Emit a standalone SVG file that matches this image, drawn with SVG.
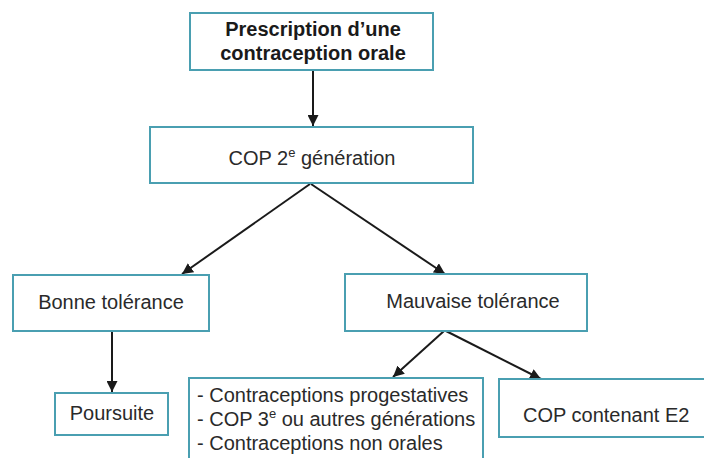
<svg xmlns="http://www.w3.org/2000/svg" width="704" height="458" viewBox="0 0 704 458">
<style>
.box{fill:#fff;stroke:#4a9fb1;stroke-width:2}
.t{font-family:"Liberation Sans",Arial,sans-serif;font-size:20px;fill:#2a2a2a}
.b{font-weight:bold;fill:#1a1a1a}
.sup{font-size:13px}
.c{stroke:#1a1a1a;stroke-width:2;fill:none;marker-end:url(#ah)}
</style>
<defs>
<marker id="ah" viewBox="0 0 10 10" refX="10" refY="5" markerWidth="11" markerHeight="11" markerUnits="userSpaceOnUse" orient="auto">
<path d="M0,0 L10,5 L0,10 Z" fill="#1a1a1a"/>
</marker>
</defs>
<rect width="704" height="458" fill="#fff"/>
<g id="connectors">
<line class="c" x1="313" y1="70" x2="313" y2="126"/>
<line class="c" x1="310" y1="184" x2="182" y2="274"/>
<line class="c" x1="311" y1="184" x2="445" y2="274"/>
<line class="c" x1="112" y1="331" x2="112" y2="392"/>
<line class="c" x1="444" y1="331" x2="393" y2="377"/>
<line class="c" x1="446" y1="331" x2="541" y2="379"/>
</g>
<g id="n1">
<rect class="box" x="190" y="13" width="243" height="57"/>
<text class="t b" x="313" y="36" text-anchor="middle">Prescription d’une</text>
<text class="t b" x="313" y="60" text-anchor="middle">contraception orale</text>
</g>
<g id="n2">
<rect class="box" x="150" y="127" width="323" height="56"/>
<text class="t" x="312" y="165" text-anchor="middle">COP 2<tspan class="sup" dy="-8">e</tspan><tspan dy="8"> génération</tspan></text>
</g>
<g id="n3">
<rect class="box" x="13" y="275" width="196" height="56"/>
<text class="t" x="111" y="309" text-anchor="middle">Bonne tolérance</text>
</g>
<g id="n4">
<rect class="box" x="345" y="274" width="242" height="57"/>
<text class="t" x="473" y="308" text-anchor="middle">Mauvaise tolérance</text>
</g>
<g id="n5">
<rect class="box" x="55" y="393" width="113" height="42"/>
<text class="t" x="112" y="420" text-anchor="middle">Poursuite</text>
</g>
<g id="n6">
<rect class="box" x="189" y="378" width="294" height="90"/>
<text class="t" x="197" y="402">- Contraceptions progestatives</text>
<text class="t" x="197" y="426">- COP 3<tspan class="sup" dy="-8">e</tspan><tspan dy="8"> ou autres générations</tspan></text>
<text class="t" x="197" y="450">- Contraceptions non orales</text>
</g>
<g id="n7">
<rect class="box" x="499" y="379" width="215" height="58"/>
<text class="t" x="523" y="422">COP contenant E2</text>
</g>
</svg>
